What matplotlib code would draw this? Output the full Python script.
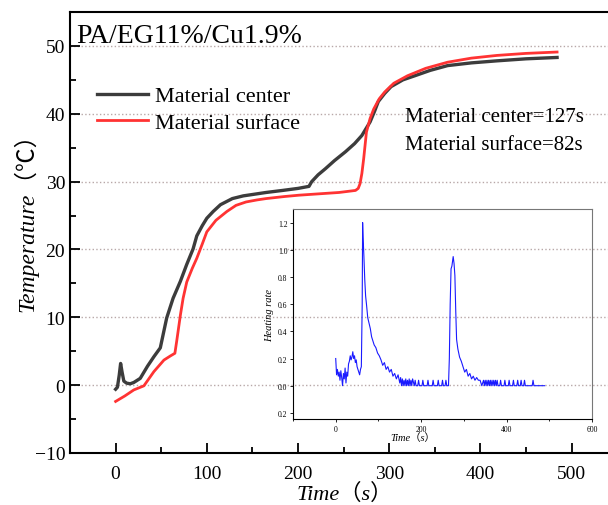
import matplotlib
matplotlib.use("Agg")
import matplotlib.pyplot as plt
from matplotlib.ticker import MultipleLocator

# main curves
t_center = [0, 2, 4, 5.5, 7, 9, 12, 16, 20, 27, 35, 42, 49, 56, 63, 71, 78, 85, 89,
            95, 100, 107, 115, 128, 140, 150, 165, 183, 200, 212, 215, 222, 230, 240,
            252, 262, 270, 279, 284, 288, 295, 302, 315, 328, 345, 364, 390, 418, 450, 484]
temp_center = [-0.6, -0.3, 1.5, 3.2, 2.0, 0.6, 0.3, 0.2, 0.4, 1.0, 2.8, 4.2, 5.5, 9.9,
               12.8, 15.3, 17.8, 20.1, 22.0, 23.5, 24.6, 25.6, 26.6, 27.5, 27.9, 28.1,
               28.4, 28.7, 29.0, 29.3, 30.0, 31.0, 31.9, 33.1, 34.4, 35.6, 36.8, 38.8,
               40.4, 41.8, 43.0, 44.0, 45.0, 45.6, 46.4, 47.1, 47.5, 47.8, 48.1, 48.3]

t_surface = [0, 10, 20, 31, 42, 53, 60, 65, 67, 71, 74, 78, 84, 89, 95, 100, 110, 122,
             132, 143, 155, 165, 185, 201, 223, 245, 263, 266, 268, 270, 272, 275, 279,
             283, 289, 295, 305, 320, 340, 364, 390, 418, 450, 484]
temp_surface = [-2.4, -1.6, -0.7, -0.1, 2.0, 3.7, 4.3, 4.7, 6.5, 10.3, 12.8, 15.2, 17.2,
                18.7, 20.8, 22.6, 24.3, 25.6, 26.5, 27.0, 27.3, 27.5, 27.8, 28.0, 28.2,
                28.4, 28.7, 29.0, 29.7, 31.2, 33.4, 37.3, 39.3, 40.7, 42.2, 43.2, 44.5,
                45.6, 46.7, 47.6, 48.2, 48.6, 48.9, 49.1]

# heating rate (inset), ten points per row
t_rate = [0, 2, 4, 6, 8, 10, 12, 14, 16, 18,
          20, 22, 24, 26, 28, 30, 32, 34, 36, 38,
          40, 42, 44, 46, 48, 50, 52, 54, 56, 58,
          60, 62, 63, 64, 66, 68, 70, 72, 75, 78,
          81, 84, 87, 90, 94, 98, 102, 106, 110, 114,
          118, 122, 126, 130, 134, 138, 142, 146, 150, 152,
          154, 156, 158, 160, 162, 164, 166, 168, 170, 172,
          174, 176, 178, 180, 184, 186, 188, 192, 194, 196,
          202, 204, 206, 214, 216, 218, 226, 228, 230, 238,
          240, 242, 248, 250, 252, 256, 258, 260, 264, 266,
          268, 270, 272, 275, 277, 279, 281, 283, 286, 290,
          294, 298, 302, 306, 310, 314, 318, 322, 326, 330,
          334, 338, 342, 346, 348, 350, 352, 354, 356, 358,
          360, 362, 364, 366, 368, 370, 372, 374, 376, 378,
          380, 384, 386, 388, 394, 396, 398, 404, 406, 408,
          414, 416, 418, 424, 426, 428, 432, 434, 436, 440,
          442, 444, 460, 462, 464, 489]
rate = [0.20, 0.08, 0.12, 0.07, 0.10, 0.04, 0.11, 0.06, 0.00, 0.09,
        0.05, 0.13, 0.02, 0.10, 0.07, 0.16, 0.18, 0.22, 0.19, 0.21,
        0.25, 0.20, 0.22, 0.17, 0.19, 0.14, 0.12, 0.10, 0.08, 0.12,
        0.14, 0.60, 1.20, 1.10, 0.95, 0.78, 0.66, 0.60, 0.50, 0.46,
        0.42, 0.36, 0.33, 0.30, 0.28, 0.24, 0.22, 0.19, 0.15, 0.17,
        0.12, 0.14, 0.10, 0.12, 0.07, 0.09, 0.05, 0.08, 0.02, 0.06,
        0.00, 0.05, 0.00, 0.04, 0.00, 0.05, 0.00, 0.04, 0.00, 0.05,
        0.00, 0.04, 0.00, 0.05, 0.00, 0.04, 0.00, 0.00, 0.04, 0.00,
        0.00, 0.04, 0.00, 0.00, 0.04, 0.00, 0.00, 0.04, 0.00, 0.00,
        0.04, 0.00, 0.00, 0.04, 0.00, 0.00, 0.04, 0.00, 0.00, 0.20,
        0.60, 0.86, 0.88, 0.95, 0.90, 0.81, 0.55, 0.34, 0.27, 0.21,
        0.18, 0.14, 0.10, 0.12, 0.07, 0.09, 0.05, 0.07, 0.04, 0.06,
        0.04, 0.04, 0.00, 0.04, 0.00, 0.04, 0.00, 0.04, 0.00, 0.04,
        0.00, 0.04, 0.00, 0.04, 0.00, 0.04, 0.00, 0.04, 0.00, 0.04,
        0.00, 0.00, 0.04, 0.00, 0.00, 0.04, 0.00, 0.00, 0.04, 0.00,
        0.00, 0.04, 0.00, 0.00, 0.04, 0.00, 0.00, 0.04, 0.00, 0.00,
        0.04, 0.00, 0.00, 0.04, 0.00, 0.00]

serif = ['Liberation Serif', 'Noto Sans CJK SC', 'DejaVu Sans']
plt.rcParams['font.family'] = serif

fig = plt.figure(figsize=(6.08, 5.06), dpi=100)
ax = fig.add_axes([70 / 608, 52 / 506, 550 / 608, 441 / 506])

ax.plot(t_center, temp_center, color='#3c3c3c', lw=2.4, label='Material center')
ax.plot(t_surface, temp_surface, color='#ff3333', lw=2.0, label='Material surface')

ax.set_xlim(-50, 553)
ax.set_ylim(-10, 55)
ax.xaxis.set_major_locator(MultipleLocator(100))
ax.xaxis.set_minor_locator(MultipleLocator(50))
ax.yaxis.set_major_locator(MultipleLocator(10))
ax.yaxis.set_minor_locator(MultipleLocator(5))
ax.tick_params(which='both', direction='in', labelsize=14, width=1.3)
ax.tick_params(which='major', length=7)
ax.tick_params(which='minor', length=4)
ax.tick_params(axis='x', pad=9)
ax.grid(axis='y', which='major', linestyle=':', color='#b8a8a8', lw=1)
ax.spines['right'].set_visible(False)
for s in ['left', 'bottom', 'top']:
    ax.spines[s].set_linewidth(1.5)

ax.set_xlabel('Time（s）', fontsize=16, style='italic', labelpad=0)
ax.set_ylabel('Temperature（℃）', fontsize=17, style='italic')
ax.yaxis.set_label_coords(-0.058, 0.537)

ax.text(0.012, 0.975, 'PA/EG11%/Cu1.9%', transform=ax.transAxes, fontsize=20,
        va='top', ha='left')
ax.legend(loc='upper left', bbox_to_anchor=(0.013, 0.878), frameon=False, fontsize=16,
          handlelength=2.3, handletextpad=0.3, labelspacing=0.28)
ax.text(317, 39.6, 'Material center=127s', fontsize=15, va='center', ha='left')
ax.text(317, 35.5, 'Material surface=82s', fontsize=15, va='center', ha='left')

# inset
ins = fig.add_axes([293 / 608, 86 / 506, 299 / 608, 210 / 506], facecolor='none')
ins.plot(t_rate, rate, color='#1a1aff', lw=0.8)
ins.set_xlim(-100, 600)
ins.set_ylim(-0.245, 1.3)
ins.xaxis.set_major_locator(MultipleLocator(200))
ins.xaxis.set_minor_locator(MultipleLocator(100))
ins.set_yticks([-0.2, 0.0, 0.2, 0.4, 0.6, 0.8, 1.0, 1.2])
ins.set_yticklabels(['0.2', '0.0', '0.2', '0.4', '0.6', '0.8', '1.0', '1.2'])
ins.tick_params(which='both', direction='out', labelsize=5.5, width=0.6, length=2.5, pad=1.5)
ins.tick_params(which='minor', length=1.5)
ins.spines['top'].set_color('#777777')
ins.spines['right'].set_color('#777777')
for s in ins.spines.values():
    s.set_linewidth(0.8)
ins.set_xlabel('Time（s）', fontsize=7.5, style='italic')
ins.xaxis.set_label_coords(0.40, -0.062)
ins.set_ylabel('Heating rate', fontsize=7.5, style='italic', labelpad=3)

fig.savefig('out.png', dpi=100)
